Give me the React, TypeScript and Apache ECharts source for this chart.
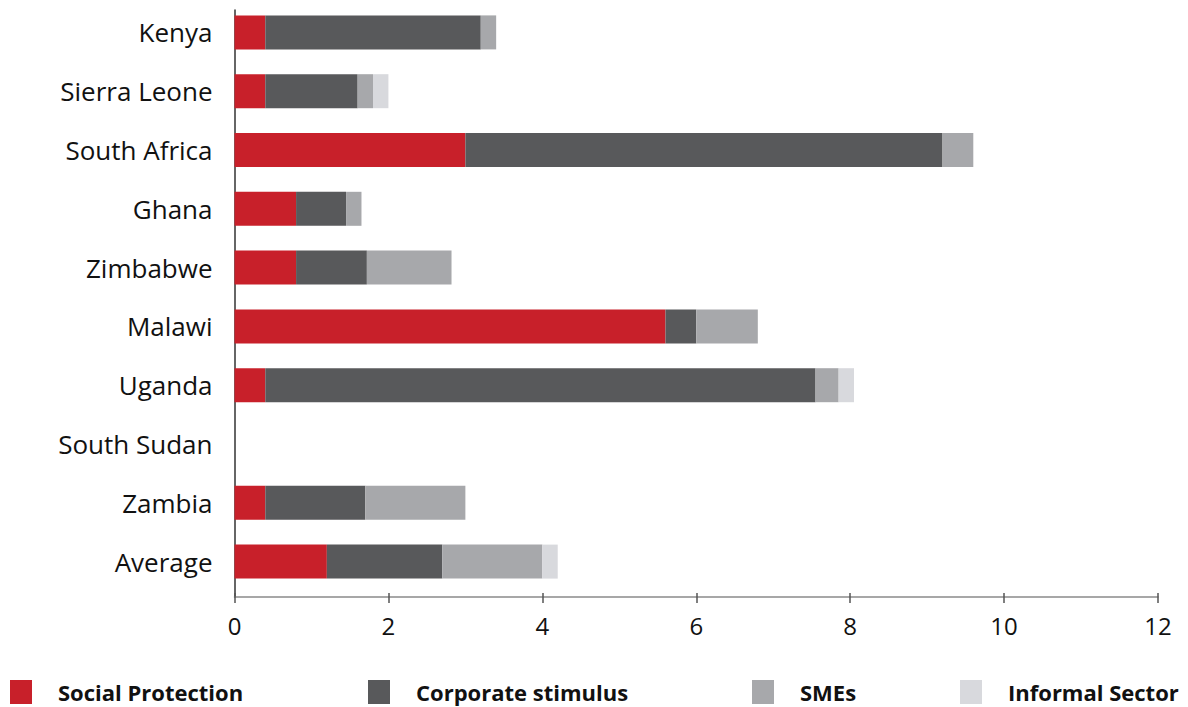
import React, { useEffect, useRef } from "react";
import * as echarts from "echarts";

const categories = ["Kenya", "Sierra Leone", "South Africa", "Ghana", "Zimbabwe", "Malawi", "Uganda", "South Sudan", "Zambia", "Average"];
const socialProtection = [0.4, 0.4, 3.0, 0.8, 0.8, 5.6, 0.4, 0, 0.4, 1.2];
const corporateStimulus = [2.8, 1.2, 6.2, 0.65, 0.92, 0.4, 7.15, 0, 1.3, 1.5];
const smes = [0.2, 0.2, 0.4, 0.2, 1.1, 0.8, 0.3, 0, 1.3, 1.3];
const informalSector = [0, 0.2, 0, 0, 0, 0, 0.2, 0, 0, 0.2];
const xTicks = { min: 0, max: 12, interval: 2 };

const seriesNames = ["Social Protection", "Corporate stimulus", "SMEs", "Informal Sector"];
const seriesData = [socialProtection, corporateStimulus, smes, informalSector];
const colors = ["#C8202A", "#58595B", "#A7A8AB", "#D8D9DD"];
const legendLefts = [10, 368, 752, 960];

export default function App() {
  const ref = useRef<HTMLDivElement>(null);
  useEffect(() => {
    document.body.style.margin = "0";
    const chart = echarts.init(ref.current!, undefined, { renderer: "svg" });
    const font = "'Open Sans', 'Noto Sans', sans-serif";
    const valueAxisBase = { type: "value", min: xTicks.min, max: xTicks.max, interval: xTicks.interval, position: "bottom", splitLine: { show: false } };
    chart.setOption({
      animation: false,
      backgroundColor: "#ffffff",
      grid: [
        { left: 234.5, right: 30, top: 3, height: 588 },
        { left: 234.5, right: 30, top: 10, height: 587 },
      ],
      xAxis: [
        { ...valueAxisBase, gridIndex: 0, show: false },
        {
          ...valueAxisBase,
          gridIndex: 1,
          axisLine: { show: true, lineStyle: { color: "#8a8a8a", width: 1.5 } },
          axisTick: { show: true, length: 6, lineStyle: { color: "#555", width: 1.5 } },
          axisLabel: { fontSize: 24, color: "#111", margin: 16, fontFamily: font },
        },
        {
          ...valueAxisBase,
          gridIndex: 1,
          axisLine: { show: false },
          axisTick: { show: true, inside: true, length: 4, lineStyle: { color: "#555", width: 1.5 } },
          axisLabel: { show: false },
        },
      ],
      yAxis: [
        {
          type: "category",
          gridIndex: 0,
          data: categories,
          inverse: true,
          axisLine: { show: false },
          axisTick: { show: false },
          axisLabel: { fontSize: 26, color: "#111", margin: 22, fontFamily: font },
        },
        {
          type: "category",
          gridIndex: 1,
          data: categories,
          inverse: true,
          axisLine: { show: true, lineStyle: { color: "#333", width: 1.5 } },
          axisTick: { show: false },
          axisLabel: { show: false },
        },
      ],
      legend: seriesNames.map((n, i) => ({
        data: [n],
        left: legendLefts[i],
        top: 680,
        padding: 0,
        itemWidth: 22,
        itemHeight: 24,
        icon: "rect",
        textStyle: { fontSize: 22, fontWeight: "bold", color: "#111", fontFamily: font, padding: [0, 0, 0, 21] },
      })),
      series: seriesNames.map((n, i) => ({
        name: n,
        type: "bar",
        stack: "total",
        xAxisIndex: 0,
        yAxisIndex: 0,
        barWidth: 34,
        data: seriesData[i],
        itemStyle: { color: colors[i] },
      })),
    });
    return () => chart.dispose();
  }, []);
  return <div ref={ref} style={{ width: 1188, height: 707 }} />;
}
